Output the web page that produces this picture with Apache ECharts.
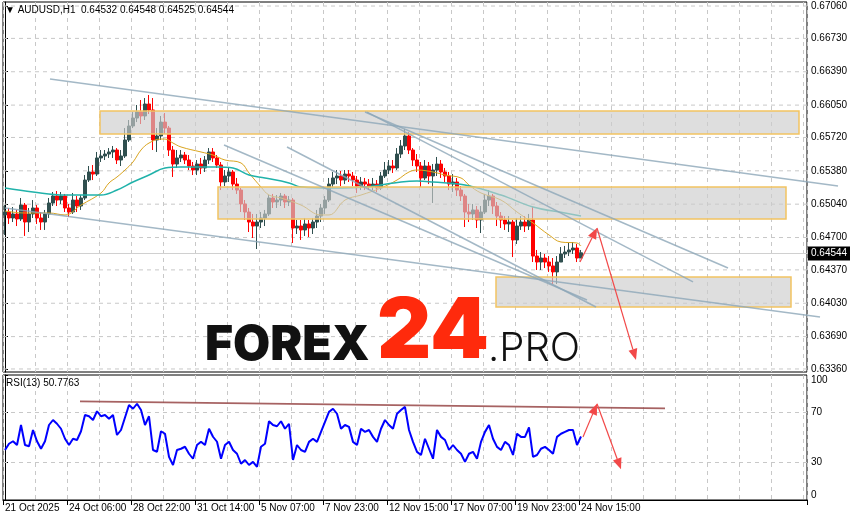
<!DOCTYPE html>
<html><head><meta charset="utf-8">
<script src="https://cdn.jsdelivr.net/npm/echarts@6/dist/echarts.min.js"></script>
<style>html,body{margin:0;padding:0;background:#fff}#c{width:854px;height:520px}</style>
</head><body><div id="c"></div>
<script>
// ---- data ----
const categories = Array.from({length: 201}, (_, i) => String(i)); // 4-hour slots
const timeTickLabels = ['21 Oct 2025','24 Oct 06:00','28 Oct 22:00','31 Oct 14:00','5 Nov 07:00','7 Nov 23:00','12 Nov 15:00','17 Nov 07:00','19 Nov 23:00','24 Nov 15:00'];
const priceTicks = [0.67060,0.66730,0.66390,0.66050,0.65720,0.65380,0.65040,0.64700,0.64370,0.64030,0.63690,0.63360];
const rsiTicks = [0,30,70,100];
const rsiLevels = [70,30];
const lastPrice = 0.64544;
// [open, close, low, high]
const ohlc = [
[0.64930,0.64960,0.64726,0.65031],[0.64960,0.64899,0.64838,0.65001],[0.64899,0.64940,0.64858,0.65011],[0.64940,0.64889,0.64817,0.64981],
[0.64889,0.65031,0.64868,0.65103],[0.65031,0.64858,0.64716,0.65052],[0.64858,0.64940,0.64756,0.65001],[0.64940,0.65001,0.64899,0.65082],
[0.65001,0.64899,0.64838,0.65031],[0.64899,0.64858,0.64777,0.64960],[0.64858,0.64940,0.64777,0.64981],[0.64940,0.65052,0.64899,0.65103],
[0.65052,0.65123,0.65021,0.65164],[0.65123,0.65082,0.65021,0.65174],[0.65082,0.65123,0.65042,0.65164],[0.65123,0.65001,0.64960,0.65144],
[0.65001,0.64960,0.64909,0.65042],[0.64960,0.65082,0.64940,0.65154],[0.65082,0.65021,0.64960,0.65123],[0.65021,0.65103,0.64981,0.65133],
[0.65103,0.65286,0.65082,0.65337],[0.65286,0.65368,0.65266,0.65429],[0.65368,0.65347,0.65286,0.65439],[0.65347,0.65511,0.65327,0.65572],
[0.65511,0.65531,0.65470,0.65592],[0.65531,0.65551,0.65490,0.65592],[0.65551,0.65572,0.65511,0.65612],[0.65572,0.65592,0.65511,0.65633],
[0.65592,0.65490,0.65449,0.65612],[0.65490,0.65531,0.65429,0.65592],[0.65531,0.65694,0.65511,0.65816],[0.65694,0.65837,0.65674,0.65898],
[0.65837,0.65918,0.65816,0.65979],[0.65918,0.65979,0.65877,0.66051],[0.65979,0.65939,0.65857,0.66102],[0.65939,0.66061,0.65898,0.66122],
[0.66061,0.66000,0.65959,0.66153],[0.66000,0.65694,0.65592,0.66122],[0.65694,0.65735,0.65572,0.65816],[0.65735,0.65877,0.65694,0.65939],
[0.65877,0.65816,0.65755,0.65969],[0.65816,0.65592,0.65531,0.65837],[0.65592,0.65449,0.65317,0.65633],[0.65449,0.65511,0.65409,0.65592],
[0.65511,0.65541,0.65470,0.65592],[0.65541,0.65490,0.65449,0.65572],[0.65490,0.65429,0.65388,0.65541],[0.65429,0.65388,0.65337,0.65470],
[0.65388,0.65449,0.65337,0.65490],[0.65449,0.65409,0.65347,0.65511],[0.65409,0.65490,0.65368,0.65531],[0.65490,0.65572,0.65449,0.65612],
[0.65572,0.65511,0.65470,0.65612],[0.65511,0.65439,0.65409,0.65541],[0.65439,0.65266,0.65184,0.65470],[0.65266,0.65327,0.65225,0.65388],
[0.65327,0.65368,0.65266,0.65409],[0.65368,0.65245,0.65184,0.65388],[0.65245,0.65184,0.65144,0.65307],[0.65184,0.65042,0.64960,0.65205],
[0.65042,0.64960,0.64879,0.65082],[0.64960,0.64858,0.64756,0.65001],[0.64858,0.64817,0.64695,0.64940],[0.64817,0.64858,0.64583,0.64940],
[0.64858,0.64899,0.64797,0.64960],[0.64899,0.64940,0.64817,0.64981],[0.64940,0.65103,0.64919,0.65133],[0.65103,0.65062,0.65001,0.65144],
[0.65062,0.65082,0.65001,0.65133],[0.65082,0.65123,0.65021,0.65154],[0.65123,0.65062,0.65001,0.65144],[0.65062,0.65082,0.65021,0.65123],
[0.65082,0.64797,0.64644,0.65103],[0.64797,0.64817,0.64736,0.64879],[0.64817,0.64777,0.64675,0.64879],[0.64777,0.64838,0.64716,0.64899],
[0.64838,0.64797,0.64705,0.64879],[0.64797,0.64858,0.64736,0.64899],[0.64858,0.64919,0.64797,0.64981],[0.64919,0.65001,0.64858,0.65042],
[0.65001,0.65082,0.64940,0.65123],[0.65082,0.65245,0.65062,0.65307],[0.65245,0.65307,0.65205,0.65368],[0.65307,0.65327,0.65245,0.65388],
[0.65327,0.65286,0.65225,0.65378],[0.65286,0.65347,0.65245,0.65388],[0.65347,0.65327,0.65266,0.65388],[0.65327,0.65286,0.65225,0.65368],
[0.65286,0.65225,0.65154,0.65327],[0.65225,0.65266,0.65184,0.65317],[0.65266,0.65245,0.65184,0.65307],[0.65245,0.65225,0.65184,0.65296],
[0.65225,0.65245,0.65184,0.65307],[0.65245,0.65205,0.65164,0.65286],[0.65205,0.65327,0.65184,0.65368],[0.65327,0.65388,0.65307,0.65470],
[0.65388,0.65429,0.65347,0.65490],[0.65429,0.65409,0.65358,0.65490],[0.65409,0.65551,0.65388,0.65612],[0.65551,0.65633,0.65511,0.65694],
[0.65633,0.65735,0.65592,0.65806],[0.65735,0.65592,0.65551,0.65775],[0.65592,0.65490,0.65429,0.65612],[0.65490,0.65429,0.65368,0.65551],
[0.65429,0.65307,0.65215,0.65470],[0.65307,0.65429,0.65286,0.65490],[0.65429,0.65327,0.65245,0.65470],[0.65327,0.65388,0.65052,0.65449],
[0.65388,0.65449,0.65327,0.65521],[0.65449,0.65368,0.65307,0.65490],[0.65368,0.65327,0.65266,0.65409],[0.65327,0.65245,0.65184,0.65368],
[0.65245,0.65266,0.65164,0.65347],[0.65266,0.65184,0.65123,0.65307],[0.65184,0.65123,0.65072,0.65225],[0.65123,0.64960,0.64807,0.65144],
[0.64960,0.64940,0.64858,0.65042],[0.64940,0.64981,0.64879,0.65042],[0.64981,0.64879,0.64797,0.65021],[0.64879,0.64960,0.64746,0.65021],
[0.64960,0.65082,0.64940,0.65144],[0.65082,0.65123,0.65021,0.65184],[0.65123,0.65021,0.64940,0.65144],[0.65021,0.64919,0.64817,0.65062],
[0.64919,0.64879,0.64797,0.64960],[0.64879,0.64838,0.64777,0.64919],[0.64838,0.64858,0.64756,0.64919],[0.64858,0.64675,0.64501,0.64879],
[0.64675,0.64817,0.64634,0.64899],[0.64817,0.64858,0.64777,0.64919],[0.64858,0.64817,0.64756,0.64919],[0.64817,0.64879,0.64777,0.64940],
[0.64879,0.64511,0.64450,0.65011],[0.64511,0.64450,0.64369,0.64573],[0.64450,0.64491,0.64369,0.64552],[0.64491,0.64450,0.64389,0.64532],
[0.64450,0.64410,0.64349,0.64511],[0.64410,0.64349,0.64226,0.64491],[0.64349,0.64450,0.64226,0.64511],[0.64450,0.64532,0.64450,0.64603],
[0.64532,0.64552,0.64491,0.64614],[0.64552,0.64573,0.64511,0.64644],[0.64573,0.64593,0.64532,0.64654],[0.64593,0.64491,0.64450,0.64634],
[0.64491,0.64544,0.64491,0.64573]
];
const rsi = [
40,45,47,44,60,44,43,56,47,41, 47,60,64,61,57,49,44,49,48,55,
68,67,64,71,67,68,65,68,52,56, 66,76,73,77,72,60,67,40,38.6,55,
53,34.5,28,40,41,42.6,37,33,44,46.6, 44,57,50.6,46.6,33,44,46.6,40,37,29,
32,28,30.5,26.5,42.6,45,63,60,59,63, 57,61,32,44,40,38.5,46.5,49,46.5,54.5,
62.5,70.5,73,69,57,60,58.5,46.5,44,57, 54.5,56,50.5,46.5,57,64,60,57,69,72,
74.5,56,46.5,38.5,36,49,41,33,56,50.5, 48,40,44,40,37,30.5,37,38.5,33,46.5,
54.5,60,49,42.5,40,46.5,44,36,53,50.5, 50.5,58,34.5,36,41,42.5,40,37,50.5,53,
54.5,56,56,44,50.78
];
const maFast = [[0,0.64970],[5,0.64950],[11,0.64950],[15,0.64930],[19,0.65031],[24,0.65154],[26,0.65256],[28,0.65317],[30,0.65388],[32,0.65470],[34,0.65592],[36,0.65663],[39,0.65704],[40,0.65704],[42,0.65663],[44,0.65623],[49,0.65572],[52,0.65541],[55,0.65490],[59,0.65460],[61,0.65358],[64,0.65215],[66,0.65133],[69,0.65103],[74,0.65031],[79,0.64930],[81,0.64930],[85,0.65082],[89,0.65133],[94,0.65205],[98,0.65286],[101,0.65368],[103,0.65388],[107,0.65368],[110,0.65337],[114,0.65307],[116,0.65235],[119,0.65154],[124,0.65082],[128,0.64960],[132,0.64848],[136,0.64726],[139,0.64654],[143,0.64644],[144,0.64614]];
const maSlow = [[0,0.65205],[7,0.65164],[15,0.65133],[24,0.65133],[28,0.65184],[32,0.65266],[36,0.65337],[40,0.65409],[44,0.65419],[49,0.65419],[53,0.65419],[57,0.65409],[61,0.65337],[65,0.65307],[71,0.65256],[74,0.65215],[82,0.65205],[90,0.65215],[99,0.65266],[103,0.65276],[107,0.65266],[115,0.65235],[124,0.65133],[132,0.65011],[140,0.64950],[144,0.64919]];
// [slot1, price1, slot2, price2]
const trendLines = [[11.25,0.66316,208.25,0.65225],[90.5,0.65979,172.0,0.64247],[90.0,0.65979,180.75,0.64389],[54.75,0.65643,145.5,0.64063],[70.5,0.65623,147.75,0.63992],[0,0.65001,203.75,0.63890]];
const zones = [[23.75,0.65990,198.5,0.65755],[53.25,0.65215,195.25,0.64889],[122.75,0.64297,196.5,0.63992]];
const arrowsMain = [[143.75,0.64450,148.0,0.64797],[148.0,0.64797,157.75,0.63452]];
const arrowsRsi = [[144.5,50.4,148.0,77.0],[148.0,77.0,154.0,24.6]];
const rsiTrend = [[18.75,78.9,165.0,73.3]];

// ---- chart ----
const chart = echarts.init(document.getElementById('c'), null, {renderer:'canvas'});
const FONT = 'Liberation Sans';
const gridDash = [4,4];
const gridColor = '#C8C8C8';

function segItem(color, width) {
  return function(params, api) {
    const a = api.coord([api.value(0), api.value(1)]);
    const b = api.coord([api.value(2), api.value(3)]);
    return {type:'line', shape:{x1:a[0],y1:a[1],x2:b[0],y2:b[1]}, style:{stroke:color, lineWidth:width}};
  };
}
function arrowItem(color) {
  return function(params, api) {
    const a = api.coord([api.value(0), api.value(1)]);
    const b = api.coord([api.value(2), api.value(3)]);
    const dx=b[0]-a[0], dy=b[1]-a[1], len=Math.hypot(dx,dy), ux=dx/len, uy=dy/len;
    const L=11, W=4.5;
    const bx=b[0]-ux*L, by=b[1]-uy*L;
    return {type:'group', children:[
      {type:'line', shape:{x1:a[0],y1:a[1],x2:bx,y2:by}, style:{stroke:color,lineWidth:1.2}},
      {type:'polygon', shape:{points:[[b[0],b[1]],[bx-uy*W,by+ux*W],[bx+uy*W,by-ux*W]]}, style:{fill:color}}
    ]};
  };
}
function hLineItem(params, api) {
  const y = api.coord([0, api.value(0)])[1];
  const cs = params.coordSys;
  return {type:'line', shape:{x1:cs.x, y1:y, x2:cs.x+cs.width, y2:y}, style:{stroke:gridColor, lineWidth:1, lineDash:gridDash}};
}

const option = {
  animation:false,
  backgroundColor:'#fff',
  grid:[
    {left:3, right:47, top:2, height:370, show:true, borderColor:'#000', borderWidth:1, backgroundColor:'transparent'},
    {left:3, right:47, top:375, height:125, show:true, borderColor:'#000', borderWidth:1, backgroundColor:'transparent'}
  ],
  xAxis:[
    {type:'category', gridIndex:0, data:categories, boundaryGap:true, axisLine:{show:false}, axisTick:{show:false}, axisLabel:{show:false},
     splitLine:{show:true, interval:(i)=>i%8===0, lineStyle:{color:gridColor, type:gridDash}}},
    {type:'category', gridIndex:1, data:categories, boundaryGap:true, axisLine:{show:true, lineStyle:{color:'#000'}},
     axisTick:{show:true, interval:(i)=>i%16===0 && i/16<timeTickLabels.length, length:5, lineStyle:{color:'#000'}},
     axisLabel:{show:true, interval:(i)=>i%16===0 && i/16<timeTickLabels.length, formatter:(v)=>timeTickLabels[Number(v)/16]||'', align:'left', color:'#000', fontSize:10, fontFamily:FONT, margin:3},
     splitLine:{show:true, interval:(i)=>i%8===0, lineStyle:{color:gridColor, type:gridDash}}},
    {type:'value', gridIndex:0, min:-0.5, max:200.5, show:false},
    {type:'value', gridIndex:1, min:-0.5, max:200.5, show:false}
  ],
  yAxis:[
    {type:'value', gridIndex:0, position:'right', min:0.63329, max:0.67101,
     axisLine:{show:true, lineStyle:{color:'#000'}},
     axisTick:{show:true, customValues:priceTicks, length:3, lineStyle:{color:'#000'}},
     axisLabel:{customValues:priceTicks, formatter:(v)=>v.toFixed(5), color:'#000', fontSize:10, fontFamily:FONT, margin:4},
     splitLine:{show:false}},
    {type:'value', gridIndex:1, position:'right', min:0, max:100,
     axisLine:{show:true, lineStyle:{color:'#000'}},
     axisTick:{show:true, customValues:rsiTicks, length:3, lineStyle:{color:'#000'}},
     axisLabel:{customValues:rsiTicks, color:'#000', fontSize:10, fontFamily:FONT, margin:4, verticalAlignMaxLabel:'top', verticalAlignMinLabel:'bottom'},
     splitLine:{show:false}}
  ],
  series:[
    {type:'custom', name:'priceGrid', xAxisIndex:2, yAxisIndex:0, z:1, silent:true, data:priceTicks.map(v=>[v]), encode:{y:0}, renderItem:hLineItem},
    {type:'custom', name:'rsiGrid', xAxisIndex:3, yAxisIndex:1, z:1, silent:true, data:rsiLevels.map(v=>[v]), encode:{y:0}, renderItem:hLineItem},
    {type:'custom', name:'lastLine', xAxisIndex:2, yAxisIndex:0, z:1, silent:true, data:[[lastPrice]], encode:{y:0},
     renderItem:function(params, api){
       const y = Math.round(api.coord([0, api.value(0)])[1]) + 0.5;
       const cs = params.coordSys;
       return {type:'group', children:[
         {type:'line', shape:{x1:cs.x, y1:y, x2:cs.x+cs.width, y2:y}, style:{stroke:'#D0D0D0', lineWidth:1}},
         {type:'rect', shape:{x:cs.x+cs.width+1, y:y-7, width:42, height:14}, style:{fill:'#000'}},
         {type:'text', style:{x:cs.x+cs.width+4, y:y, text:lastPrice.toFixed(5), fill:'#fff', font:'10px '+FONT, verticalAlign:'middle', align:'left'}}
       ]};
     }},
    {type:'candlestick', name:'AUDUSD', xAxisIndex:0, yAxisIndex:0, z:2, data:ohlc, barWidth:3,
     itemStyle:{color:'#2F4F4F', color0:'#FF0000', borderColor:'#2F4F4F', borderColor0:'#FF0000', borderWidth:1}},
    {type:'line', name:'MA fast', xAxisIndex:2, yAxisIndex:0, z:3, data:maFast, symbol:'none', smooth:0.4, lineStyle:{color:'#DAA520', width:1}},
    {type:'line', name:'MA slow', xAxisIndex:2, yAxisIndex:0, z:3, data:maSlow, symbol:'none', smooth:0.4, lineStyle:{color:'#20B2AA', width:1.5}},
    {type:'custom', name:'zones', xAxisIndex:2, yAxisIndex:0, z:4, silent:true, data:zones, encode:{x:[0,2], y:[1,3]},
     renderItem:function(params, api){
       const a = api.coord([api.value(0), api.value(1)]);
       const b = api.coord([api.value(2), api.value(3)]);
       return {type:'rect', shape:{x:Math.min(a[0],b[0]), y:Math.min(a[1],b[1]), width:Math.abs(b[0]-a[0]), height:Math.abs(b[1]-a[1])},
         style:{fill:'rgba(205,205,205,0.65)', stroke:'#F2C462', lineWidth:1.5}};
     }},
    {type:'custom', name:'trend', xAxisIndex:2, yAxisIndex:0, z:5, silent:true, data:trendLines, encode:{x:[0,2], y:[1,3]}, renderItem:segItem('rgba(140,166,184,0.8)', 1.5)},
    {type:'custom', name:'arrowsMain', xAxisIndex:2, yAxisIndex:0, z:6, silent:true, data:arrowsMain, encode:{x:[0,2], y:[1,3]}, renderItem:arrowItem('#F24848')},
    {type:'line', name:'RSI(13)', xAxisIndex:1, yAxisIndex:1, z:3, data:rsi, symbol:'none', lineStyle:{color:'#0000FF', width:2}},
    {type:'custom', name:'rsiTrend', xAxisIndex:3, yAxisIndex:1, z:4, silent:true, data:rsiTrend, encode:{x:[0,2], y:[1,3]}, renderItem:segItem('rgba(150,70,70,0.85)', 2)},
    {type:'custom', name:'arrowsRsi', xAxisIndex:3, yAxisIndex:1, z:6, silent:true, data:arrowsRsi, encode:{x:[0,2], y:[1,3]}, renderItem:arrowItem('#F24848')}
  ],
  graphic:[
    {type:'text', z:100, left:5, top:5, style:{text:'▼ AUDUSD,H1  0.64532 0.64548 0.64525 0.64544', fill:'#000', font:'10px '+FONT}},
    {type:'text', z:100, left:6, top:378, style:{text:'RSI(13) 50.7763', fill:'#000', font:'10px '+FONT}},
    {type:'text', z:100, style:{x:205, y:346, text:'FOREX', fill:'#111', font:'900 48px Inter', verticalAlign:'middle'}},
    {type:'text', z:100, style:{x:377, y:333, text:'24', fill:'#FF2A0C', font:'900 84px Inter', verticalAlign:'middle'}},
    {type:'text', z:100, style:{x:488, y:349, text:'.PRO', fill:'#111', font:'300 40px Inter', verticalAlign:'middle'}}
  ]
};
chart.setOption(option);
</script>
</body></html>
